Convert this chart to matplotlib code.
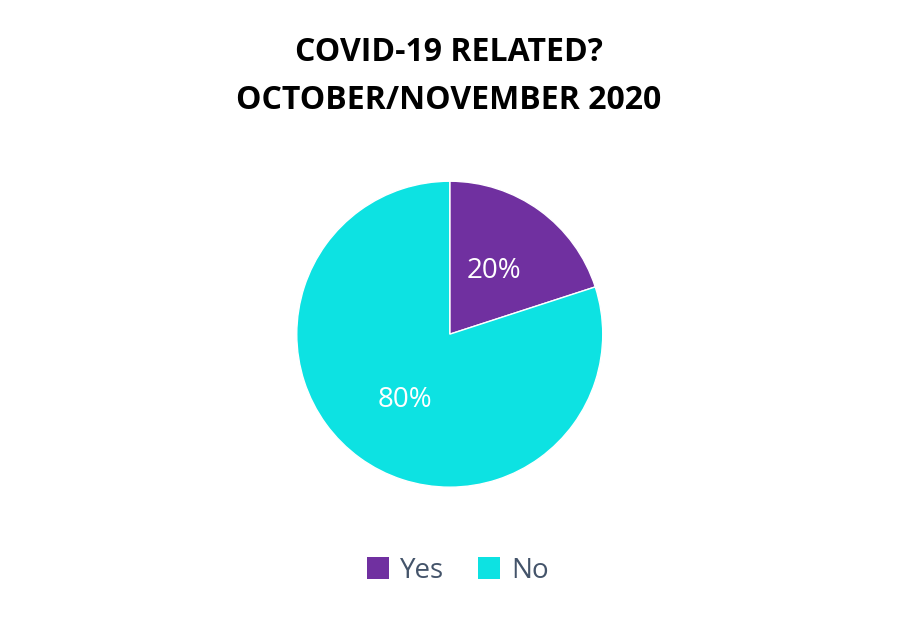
import matplotlib.pyplot as plt
from matplotlib.patches import Patch

labels = ["Yes", "No"]
shares = [20, 80]
colors = ["#7030A0", "#0DE2E2"]

fig = plt.figure(figsize=(9.16, 6.27), dpi=100)
fig.text(0.49, 0.878, "COVID-19 RELATED?\nOCTOBER/NOVEMBER 2020", ha="center", va="center",
         fontsize=23, fontweight="bold", family="Open Sans", linespacing=1.6)

ax = fig.add_axes([0.324, 0.223, 0.334, 0.488])
wedges, texts = ax.pie(shares, colors=colors, startangle=90, counterclock=False,
                       wedgeprops=dict(edgecolor="white", linewidth=1))
ax.set_xlim(-1, 1)
ax.set_ylim(-1, 1)
ax.set_aspect("equal")

# percentage labels roughly where the original puts them
pct_pos = [(0.29, 0.41), (-0.29, -0.43)]
for s, (px, py) in zip(shares, pct_pos):
    ax.text(px, py, f"{s}%", ha="center", va="center", color="white",
            fontsize=20, family="Open Sans")

handles = [Patch(facecolor=c) for c in colors]
fig.legend(handles, labels, loc="center", bbox_to_anchor=(0.5, 0.09), ncol=2, frameon=False,
           prop={"family": "Open Sans", "size": 20}, labelcolor="#44546A",
           handlelength=0.8, handleheight=0.8, handletextpad=0.4, columnspacing=1.2)

fig.savefig("out.png", dpi=100)
